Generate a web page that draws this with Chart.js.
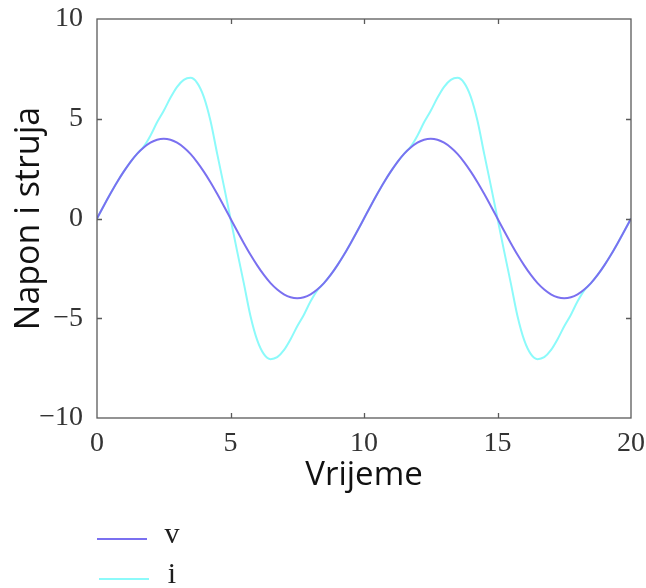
<!DOCTYPE html>
<html>
<head>
<meta charset="utf-8">
<script src="https://cdn.jsdelivr.net/npm/chart.js@4/dist/chart.umd.min.js"></script>
<style>
html,body{margin:0;padding:0;background:#fff;}
#wrap{width:646px;height:588px;}
</style>
</head>
<body>
<div id="wrap"><canvas id="c" width="646" height="588"></canvas></div>
<script>
// Time (x values)
const time = [0,0.25,0.5,0.75,1,1.25,1.5,1.75,2,2.25,2.5,2.75,3,3.25,3.5,3.75,4,4.25,4.5,4.75,5,
  5.25,5.5,5.75,6,6.25,6.5,6.75,7,7.25,7.5,7.75,8,8.25,8.5,8.75,9,9.25,9.5,9.75,10,
  10.25,10.5,10.75,11,11.25,11.5,11.75,12,12.25,12.5,12.75,13,13.25,13.5,13.75,14,14.25,14.5,14.75,15,
  15.25,15.5,15.75,16,16.25,16.5,16.75,17,17.25,17.5,17.75,18,18.25,18.5,18.75,19,19.25,19.5,19.75,20];
// Napon (v)
const vValues = [0,0.63,1.24,1.82,2.35,2.83,3.24,3.56,3.8,3.95,4,3.95,3.8,3.56,3.24,2.83,2.35,1.82,1.24,0.63,0,
  -0.63,-1.24,-1.82,-2.35,-2.83,-3.24,-3.56,-3.8,-3.95,-4,-3.95,-3.8,-3.56,-3.24,-2.83,-2.35,-1.82,-1.24,-0.63,0,
  0.63,1.24,1.82,2.35,2.83,3.24,3.56,3.8,3.95,4,3.95,3.8,3.56,3.24,2.83,2.35,1.82,1.24,0.63,0,
  -0.63,-1.24,-1.82,-2.35,-2.83,-3.24,-3.56,-3.8,-3.95,-4,-3.95,-3.8,-3.56,-3.24,-2.83,-2.35,-1.82,-1.24,-0.63,0];
// Struja (i)
const iValues = [0,0.63,1.24,1.82,2.35,2.83,3.24,3.6,4.15,4.82,5.4,6.05,6.6,6.95,7.05,6.8,6.1,4.9,3.25,1.65,0,
  -1.65,-3.25,-4.9,-6.1,-6.8,-7.05,-6.95,-6.6,-6.05,-5.4,-4.82,-4.15,-3.6,-3.24,-2.83,-2.35,-1.82,-1.24,-0.63,0,
  0.63,1.24,1.82,2.35,2.83,3.24,3.6,4.15,4.82,5.4,6.05,6.6,6.95,7.05,6.8,6.1,4.9,3.25,1.65,0,
  -1.65,-3.25,-4.9,-6.1,-6.8,-7.05,-6.95,-6.6,-6.05,-5.4,-4.82,-4.15,-3.6,-3.24,-2.83,-2.35,-1.82,-1.24,-0.63,0];
const seriesLabels = ['v','i'];
const xTitle = 'Vrijeme';
const yTitle = 'Napon i struja';

const toPts = (arr) => arr.map((y, k) => ({x: time[k], y: y}));
const minus = (v) => (v < 0 ? '\u2212' + Math.abs(v) : String(v));

const frameTicks = {
  id: 'frameTicks',
  afterDatasetsDraw(chart) {
    const {ctx, chartArea: a, scales: {x, y}} = chart;
    ctx.save();
    ctx.strokeStyle = '#5a5a5a';
    ctx.lineWidth = 1.3;
    ctx.strokeRect(a.left, a.top, a.right - a.left, a.bottom - a.top);
    const L = 5;
    ctx.beginPath();
    x.ticks.forEach(t => {
      if (t.value <= x.min || t.value >= x.max) return;
      const px = Math.round(x.getPixelForValue(t.value)) + 0.5;
      ctx.moveTo(px, a.bottom); ctx.lineTo(px, a.bottom - L);
      ctx.moveTo(px, a.top); ctx.lineTo(px, a.top + L);
    });
    y.ticks.forEach(t => {
      if (t.value <= y.min || t.value >= y.max) return;
      const py = Math.round(y.getPixelForValue(t.value)) + 0.5;
      ctx.moveTo(a.left, py); ctx.lineTo(a.left + L, py);
      ctx.moveTo(a.right, py); ctx.lineTo(a.right - L, py);
    });
    ctx.stroke();
    ctx.restore();
  },
  afterDraw(chart) {
    const {ctx, chartArea: a} = chart;
    ctx.save();
    ctx.font = '30px "Liberation Serif", "Times New Roman", serif';
    ctx.fillStyle = '#1e1e1e';
    ctx.textBaseline = 'alphabetic';
    chart.data.datasets.forEach((ds, k) => {
      const ly = a.bottom + 121 + k * 40;
      ctx.strokeStyle = ds.borderColor;
      ctx.lineWidth = 2.2;
      ctx.beginPath();
      ctx.moveTo(a.left + k * 2, ly);
      ctx.lineTo(a.left + 50 + k * 2, ly);
      ctx.stroke();
      ctx.textAlign = 'center';
      ctx.fillText(ds.label, a.left + 75, ly + 4);
    });
    ctx.restore();
  }
};

new Chart(document.getElementById('c'), {
  type: 'line',
  data: {
    datasets: [
      {label: seriesLabels[0], data: toPts(vValues), borderColor: 'rgb(122,112,240)', borderWidth: 2,
       pointRadius: 0, cubicInterpolationMode: 'monotone', fill: false},
      {label: seriesLabels[1], data: toPts(iValues), borderColor: 'rgb(140,250,250)', borderWidth: 2,
       pointRadius: 0, cubicInterpolationMode: 'monotone', fill: false}
    ]
  },
  options: {
    responsive: false,
    animation: false,
    devicePixelRatio: 1,
    layout: {padding: {left: 0, top: 19, right: 15, bottom: 88}},
    plugins: {legend: {display: false}, tooltip: {enabled: false}},
    scales: {
      x: {
        type: 'linear', min: 0, max: 20,
        grid: {display: false, drawTicks: false},
        border: {display: false},
        ticks: {stepSize: 5, padding: 9, color: '#333',
          font: {family: '"Liberation Serif", "Times New Roman", serif', size: 28},
          callback: (v) => minus(v), maxRotation: 0},
        title: {display: true, text: xTitle, color: '#111',
          font: {family: '"Open Sans", sans-serif', size: 33}, padding: {top: 0, bottom: 5}},
        afterFit: (s) => { s.height = 82; s.paddingLeft = 0; s.paddingRight = 0; }
      },
      y: {
        type: 'linear', min: -10, max: 10,
        grid: {display: false, drawTicks: false},
        border: {display: false},
        ticks: {stepSize: 5, padding: 14, color: '#333',
          font: {family: '"Liberation Serif", "Times New Roman", serif', size: 28},
          callback: (v) => minus(v)},
        title: {display: true, text: yTitle, color: '#111',
          font: {family: '"Open Sans", sans-serif', size: 34}, padding: {top: 9, bottom: 0}},
        afterFit: (s) => { s.width = 97; s.paddingTop = 0; s.paddingBottom = 0; }
      }
    }
  },
  plugins: [frameTicks]
});
</script>
</body>
</html>
